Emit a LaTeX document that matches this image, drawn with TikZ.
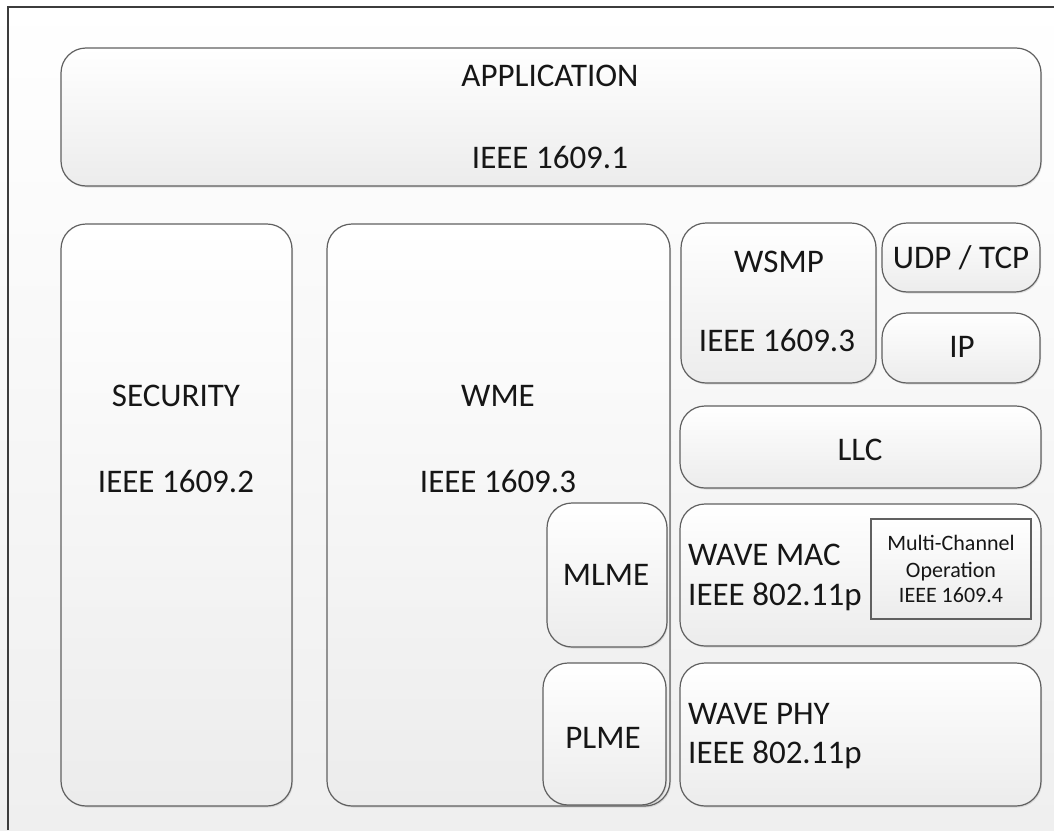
\documentclass[tikz,border=0pt]{standalone}
\usepackage{fontspec}
\setmainfont{Carlito}
\usetikzlibrary{shadows}
\definecolor{edge}{RGB}{96,96,96}
\definecolor{boxbot}{RGB}{236,236,236}
\definecolor{bgbot}{RGB}{239,239,239}
\definecolor{frame}{RGB}{60,60,60}
\definecolor{ink}{RGB}{22,22,22}
\begin{document}
\begin{tikzpicture}[x=1pt,y=-1pt,
  layer/.style={draw=edge, line width=1.2pt, rounded corners=25pt, top color=white, bottom color=boxbot,
    drop shadow={opacity=0.22, shadow xshift=1pt, shadow yshift=-1.5pt}, inner sep=0pt},
  sqbox/.style={draw=edge, line width=1.1pt, top color=white, bottom color=boxbot, inner sep=0pt},
  lbl/.style={font=\fontsize{33}{40}\selectfont, text=ink, inner sep=0pt, anchor=base},
  lblw/.style={lbl, anchor=base west},
  smalllbl/.style={font=\fontsize{22}{26}\selectfont, text=ink, inner sep=0pt, anchor=base}]
\useasboundingbox (0,0) rectangle (1054,830);
\shade[top color=white, bottom color=bgbot] (0,0) rectangle (1054,830);
\coordinate (fa) at (8,830);
\coordinate (fb) at (8,7);
\coordinate (fc) at (1054,7);
\draw[frame, line width=1.5pt] (fa) -- (fb) -- (fc);

% boxes
\node[layer, minimum width=980pt, minimum height=138pt] (app) at (551,117) {};
\node[layer, minimum width=231pt, minimum height=582pt] (sec) at (176.5,515) {};
\node[layer, minimum width=343pt, minimum height=582pt] (wme) at (498.5,515) {};
\node[layer, minimum width=120pt, minimum height=144pt] (mlme) at (607,575) {};
\node[layer, minimum width=123pt, minimum height=142pt] (plme) at (604.5,734) {};
\node[layer, minimum width=195pt, minimum height=160pt] (wsmp) at (778.5,303) {};
\node[layer, minimum width=158pt, minimum height=69pt] (udp) at (961,257.5) {};
\node[layer, minimum width=158pt, minimum height=70pt] (ip) at (961,348) {};
\node[layer, minimum width=361pt, minimum height=82pt] (llc) at (860.5,447) {};
\node[layer, minimum width=361pt, minimum height=142pt] (mac) at (860.5,575) {};
\node[sqbox, minimum width=160pt, minimum height=100pt] (mco) at (951,569) {};
\node[layer, minimum width=361pt, minimum height=143pt] (phy) at (860.5,734.5) {};

% labels
\node[lbl] (appA) at (550,86.6) {APPLICATION};
\node[lbl] (appB) at (550,168.6) {IEEE 1609.1};
\node[lbl] (secA) at (176,406.6) {SECURITY};
\node[lbl] (secB) at (176,492.6) {IEEE 1609.2};
\node[lbl] (wmeA) at (498,406.6) {WME};
\node[lbl] (wmeB) at (498,492.6) {IEEE 1609.3};
\node[lbl] (wsmpA) at (779,272.6) {WSMP};
\node[lbl] (wsmpB) at (777,351.6) {IEEE 1609.3};
\node[lbl] (udpA) at (961,268.6) {UDP / TCP};
\node[lbl] (ipA) at (962,357.6) {IP};
\node[lbl] (llcA) at (860,460.6) {LLC};
\node[lblw] (macA) at (688,565.6) {WAVE MAC};
\node[lblw] (macB) at (688,605.6) {IEEE 802.11p};
\node[smalllbl] (mcoA) at (951,550.1) {Multi-Channel};
\node[smalllbl] (mcoB) at (951,577.1) {Operation};
\node[smalllbl] (mcoC) at (951,602.1) {IEEE 1609.4};
\node[lbl] (mlmeA) at (606,585.6) {MLME};
\node[lbl] (plmeA) at (603,748.6) {PLME};
\node[lblw] (phyA) at (688,724.6) {WAVE PHY};
\node[lblw] (phyB) at (688,763.6) {IEEE 802.11p};
\end{tikzpicture}
\end{document}
